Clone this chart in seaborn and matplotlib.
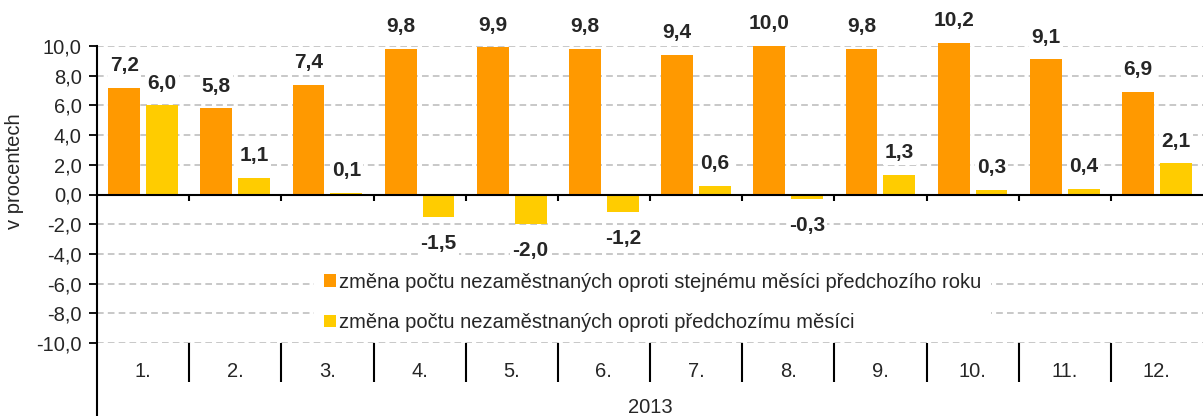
import pandas as pd
import numpy as np
import seaborn as sns
import matplotlib.pyplot as plt

months = ['1.', '2.', '3.', '4.', '5.', '6.', '7.', '8.', '9.', '10.', '11.', '12.']
yoy = [7.2, 5.8, 7.4, 9.8, 9.9, 9.8, 9.4, 10.0, 9.8, 10.2, 9.1, 6.9]
mom = [6.0, 1.1, 0.1, -1.5, -2.0, -1.2, 0.6, -0.3, 1.3, 0.3, 0.4, 2.1]
series = ['změna počtu nezaměstnaných oproti stejnému měsíci předchozího roku',
          'změna počtu nezaměstnaných oproti předchozímu měsíci']
colors = ['#FF9900', '#FFCC00']
year = '2013'


def cz(v):
    return ('%.1f' % v).replace('.', ',')


df = pd.DataFrame({
    'month': months * 2,
    'series': [series[0]] * len(months) + [series[1]] * len(months),
    'value': yoy + mom,
})

sns.set_theme(style='white')
plt.rcParams['font.family'] = ['Liberation Sans', 'DejaVu Sans']

fig = plt.figure(figsize=(12.03, 4.16), dpi=100)
ax = fig.add_axes([97 / 1203, 1 - 343 / 416, 1 - 97 / 1203, (343 - 46) / 416])

sns.barplot(data=df, x='month', y='value', hue='series', hue_order=series,
            palette=colors, width=0.82, gap=0.16, ax=ax, saturation=1,
            edgecolor='none', zorder=3)
for p in ax.patches:
    p.set_clip_on(False)

ax.set_ylim(-10, 10)
ax.set_xlim(-0.5, len(months) - 0.5)

# y axis
yt = np.arange(-10, 10.1, 2)
ax.set_yticks(yt)
ax.set_yticklabels([cz(v) for v in yt], fontsize=14.5)
ax.tick_params(axis='y', direction='out', length=6, width=1.3, color='black', pad=5, left=True)
for v in yt:
    if v != 0:
        ax.axhline(v, color='#BFBFBF', lw=1.2, ls=(0, (4, 2.5)), zorder=1)
ax.axhline(0, color='black', lw=1.5, zorder=4)

# x axis: boundaries as major ticks, labels centered as minor
bounds = np.arange(0.5, len(months) - 0.5, 1)
ax.set_xticks(bounds)
ax.set_xticklabels([''] * len(bounds))
ax.tick_params(axis='x', which='major', direction='out', length=28, width=1.5, color='black', bottom=True)
ax.set_xticks(range(len(months)), minor=True)
ax.set_xticklabels(months, minor=True, fontsize=14.5)
ax.tick_params(axis='x', which='minor', length=0, pad=14)
ax.vlines(bounds, -0.45, 0, color='black', lw=1.5, zorder=4)

for s in ['top', 'right', 'bottom']:
    ax.spines[s].set_visible(False)
ax.spines['left'].set_color('black')
ax.spines['left'].set_linewidth(1.5)
ax.spines['left'].set_bounds(-15, 10)

ax.set_xlabel(year, fontsize=14.5, labelpad=8)
ax.set_ylabel('v procentech', fontsize=14.5)
ax.yaxis.set_label_coords(-0.066, 0.58)

# value labels
for cont, vals in zip(ax.containers, [yoy, mom]):
    for bar, v in zip(cont, vals):
        x = bar.get_x() + bar.get_width() / 2
        off = 16 if v >= 0 else -19
        ax.annotate(cz(v), (x, v), xytext=(0, off), textcoords='offset points',
                    ha='center', va='center', fontsize=15, fontweight='bold',
                    annotation_clip=False,
                    bbox=dict(boxstyle='square,pad=0.1', fc='white', ec='none'), zorder=5)

leg = ax.legend(loc='upper left', bbox_to_anchor=(0.196, 0.27), frameon=True,
                fontsize=14.5, handlelength=0.6, handleheight=0.6, handletextpad=0.15,
                labelspacing=1.05, borderpad=0.5, borderaxespad=0, fancybox=False)
leg.get_frame().set_facecolor('white')
leg.get_frame().set_edgecolor('none')
leg.get_frame().set_alpha(1)
leg.set_zorder(6)

plt.savefig('out.png', dpi=100)
